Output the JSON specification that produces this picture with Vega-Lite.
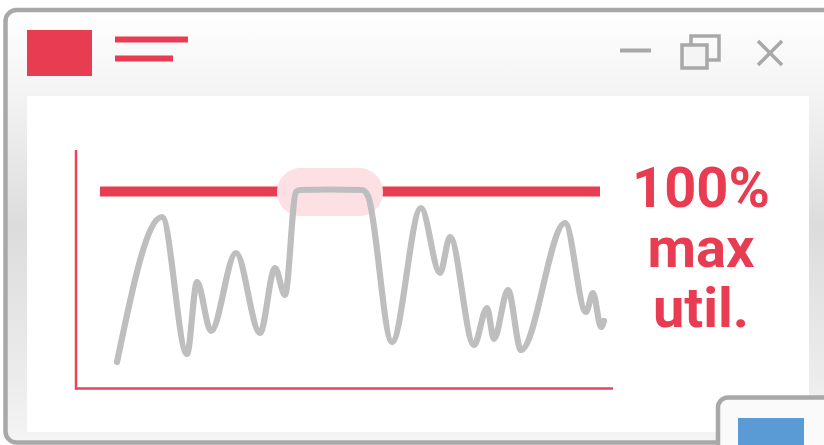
{
  "$schema": "https://vega.github.io/schema/vega-lite/v6.json",
  "width": 824,
  "height": 445,
  "padding": 0,
  "autosize": "none",
  "background": "white",
  "config": {"view": {"stroke": null}},
  "encoding": {
    "x": {"field": "x", "type": "quantitative", "scale": {"domain": [0, 824], "nice": false, "zero": false}, "axis": null},
    "y": {"field": "y", "type": "quantitative", "scale": {"domain": [0, 445], "nice": false, "zero": false, "reverse": true}, "axis": null}
  },
  "layer": [
    {
      "data": {"values": [{"x": 5.5, "x2": 880, "y": 10, "y2": 442.5}]},
      "mark": {"type": "rect", "clip": true, "cornerRadius": 11, "stroke": "#a8a8a8", "strokeWidth": 4.5,
        "fill": {"gradient": "linear", "x1": 0, "y1": 0, "x2": 0, "y2": 1,
          "stops": [{"offset": 0, "color": "#ffffff"}, {"offset": 0.2, "color": "#f3f3f3"}, {"offset": 0.5, "color": "#dcdcdc"}, {"offset": 0.85, "color": "#ececec"}, {"offset": 1, "color": "#f4f4f4"}]}},
      "encoding": {"x2": {"field": "x2"}, "y2": {"field": "y2"}}
    },
    {
      "data": {"values": [{"x": 27, "x2": 809, "y": 96, "y2": 432}]},
      "mark": {"type": "rect", "fill": "#ffffff"},
      "encoding": {"x2": {"field": "x2"}, "y2": {"field": "y2"}}
    },
    {
      "data": {"values": [
        {"x": 27, "x2": 92, "y": 30, "y2": 76},
        {"x": 115, "x2": 188, "y": 36.5, "y2": 42.5},
        {"x": 115, "x2": 173, "y": 55.5, "y2": 61.5}
      ]},
      "mark": {"type": "rect", "fill": "#e83c52"},
      "encoding": {"x2": {"field": "x2"}, "y2": {"field": "y2"}}
    },
    {
      "data": {"values": [{"x": 620, "x2": 651, "y": 48.5, "y2": 52.5}]},
      "mark": {"type": "rect", "fill": "#a8a8a8"},
      "encoding": {"x2": {"field": "x2"}, "y2": {"field": "y2"}}
    },
    {
      "data": {"values": [{"x": 691, "x2": 719, "y": 36, "y2": 60}]},
      "mark": {"type": "rect", "fill": null, "stroke": "#a8a8a8", "strokeWidth": 3.5},
      "encoding": {"x2": {"field": "x2"}, "y2": {"field": "y2"}}
    },
    {
      "data": {"values": [{"x": 682, "x2": 707, "y": 45, "y2": 68}]},
      "mark": {"type": "rect", "fill": "#f4f4f4", "stroke": "#a8a8a8", "strokeWidth": 3.5},
      "encoding": {"x2": {"field": "x2"}, "y2": {"field": "y2"}}
    },
    {
      "data": {"values": [{"x": 758, "x2": 782, "y": 41, "y2": 65}, {"x": 782, "x2": 758, "y": 41, "y2": 65}]},
      "mark": {"type": "rule", "stroke": "#a8a8a8", "strokeWidth": 3.5},
      "encoding": {"x2": {"field": "x2"}, "y2": {"field": "y2"}}
    },
    {
      "data": {"values": [
        {"y": 165}, {"y": 172.4}, {"y": 179.8}, {"y": 187.2}, {"y": 194.6}, {"y": 202}, {"y": 209.4},
        {"y": 216.8}, {"y": 224.2}, {"y": 231.6}, {"y": 239}, {"y": 246.4}, {"y": 253.8}, {"y": 261.2},
        {"y": 268.6}, {"y": 276}, {"y": 283.4}, {"y": 290.8}, {"y": 298.2}, {"y": 305.6}, {"y": 313},
        {"y": 320.4}, {"y": 327.8}, {"y": 335.2}, {"y": 342.6}, {"y": 350}, {"y": 357.4}, {"y": 364.8}
      ]},
      "mark": {"type": "rule", "stroke": "#dedede", "strokeWidth": 1.8, "strokeDash": [1.8, 5.5]},
      "encoding": {"x": {"datum": 100}, "x2": {"datum": 601}}
    },
    {
      "data": {"values": [{"x": 76, "x2": 76, "y": 150, "y2": 389.5}, {"x": 75, "x2": 613, "y": 388.5, "y2": 388.5}]},
      "mark": {"type": "rule", "stroke": "#ea4459", "strokeWidth": 2.5},
      "encoding": {"x2": {"field": "x2"}, "y2": {"field": "y2"}}
    },
    {
      "data": {"values": [{"x": 100, "x2": 600, "y": 191.5}]},
      "mark": {"type": "rule", "stroke": "#e83c52", "strokeWidth": 10, "strokeCap": "butt"},
      "encoding": {"x2": {"field": "x2"}}
    },
    {
      "data": {"values": [{"x": 277, "x2": 383, "y": 168, "y2": 216}]},
      "mark": {"type": "rect", "fill": "#fde0e4", "cornerRadius": 24},
      "encoding": {"x2": {"field": "x2"}, "y2": {"field": "y2"}}
    },
    {
      "data": {"values": [
        {"x": 117, "y": 362}, {"x": 162, "y": 217}, {"x": 187, "y": 354}, {"x": 197, "y": 282},
        {"x": 211, "y": 331}, {"x": 236, "y": 253}, {"x": 260, "y": 333}, {"x": 275, "y": 268},
        {"x": 285, "y": 295}, {"x": 296, "y": 192}, {"x": 300, "y": 190}, {"x": 330, "y": 189.5},
        {"x": 362, "y": 190}, {"x": 368, "y": 196}, {"x": 392, "y": 342}, {"x": 421, "y": 208},
        {"x": 440, "y": 273}, {"x": 450, "y": 237}, {"x": 474, "y": 345}, {"x": 487, "y": 308},
        {"x": 494, "y": 339}, {"x": 508, "y": 290}, {"x": 521, "y": 350}, {"x": 565, "y": 223},
        {"x": 586, "y": 312}, {"x": 593, "y": 293}, {"x": 601, "y": 327}, {"x": 604, "y": 321}
      ]},
      "mark": {"type": "line", "interpolate": "monotone", "stroke": "#bebebe", "strokeWidth": 6.2, "strokeCap": "round", "strokeJoin": "round"}
    },
    {
      "data": {"values": [{"t": "100%\nmax\nutil.", "x": 701, "y": 207}]},
      "mark": {"type": "text", "font": "Roboto", "fontWeight": "bold", "fontSize": 56, "lineBreak": "\n", "lineHeight": 60, "align": "center", "baseline": "alphabetic", "fill": "#e83c52"},
      "encoding": {"text": {"field": "t"}}
    },
    {
      "data": {"values": [{"x": 718, "x2": 880, "y": 397.5, "y2": 480}]},
      "mark": {"type": "rect", "clip": true, "cornerRadius": 10, "fill": "#fafafa", "stroke": "#a8a8a8", "strokeWidth": 4.5},
      "encoding": {"x2": {"field": "x2"}, "y2": {"field": "y2"}}
    },
    {
      "data": {"values": [{"x": 738, "x2": 804, "y": 418, "y2": 470}]},
      "mark": {"type": "rect", "clip": true, "fill": "#5b9bd5"},
      "encoding": {"x2": {"field": "x2"}, "y2": {"field": "y2"}}
    }
  ]
}
